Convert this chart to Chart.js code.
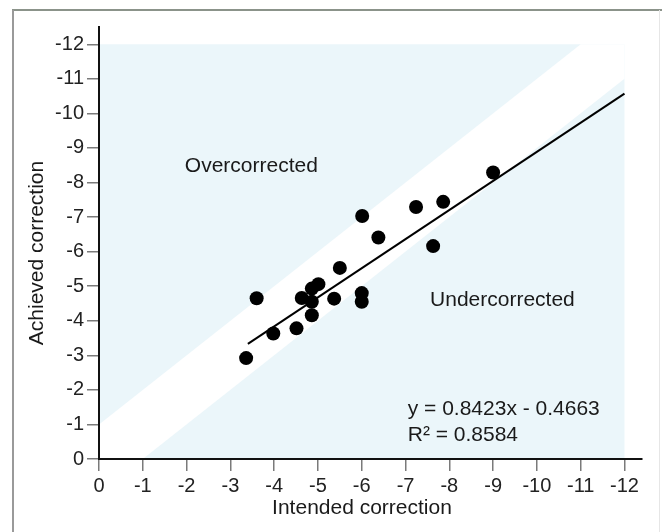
<!DOCTYPE html>
<html>
<head>
<meta charset="utf-8">
<script src="https://cdn.jsdelivr.net/npm/chart.js@4/dist/chart.umd.min.js"></script>
<style>
  html, body { margin: 0; padding: 0; background: #fff; }
  canvas { display: block; }
</style>
</head>
<body>
<canvas id="correction" width="662" height="532"></canvas>
<script>
// intended vs achieved correction (dioptres)
const intended = [-3.36, -3.60, -3.98, -4.51, -4.63, -4.86, -4.86, -4.86, -5.01, -5.37,
  -5.50, -6.00, -6.00, -6.01, -6.38, -7.24, -7.63, -7.86, -9.00]
const achieved = [-2.92, -4.65, -3.63, -3.78, -4.66, -4.55, -4.16, -4.93, -5.06, -4.64,
  -5.53, -4.80, -4.55, -7.03, -6.41, -7.29, -6.16, -7.44, -8.29]

const xTicks = [0, -1, -2, -3, -4, -5, -6, -7, -8, -9, -10, -11, -12]
const yTicks = [0, -1, -2, -3, -4, -5, -6, -7, -8, -9, -10, -11, -12]

// trend line from the fitted equation
const slope = 0.8423
const intercept = -0.4663
const trendX = [-3.4, -12]
const bandHalfWidth = 1

const FONT = "'Liberation Sans', Arial, Helvetica, sans-serif"
const SHADE = "#ebf6fa"

/**
 * Light blue field with a white band of +/- 1 around the line of perfect correction
 */
const shadingPlugin = {
  id: "shading",
  beforeDraw(chart) {
    const { ctx, scales: { x, y } } = chart
    const px = v => x.getPixelForValue(v)
    const py = v => y.getPixelForValue(v)
    ctx.save()
    ctx.fillStyle = SHADE
    ctx.fillRect(px(0), py(-12), px(-12) - px(0), py(0) - py(-12))
    const band = [
      [0, 0], [-bandHalfWidth, 0], [-12, -12 + bandHalfWidth],
      [-12, -12], [-12 + bandHalfWidth, -12], [0, -bandHalfWidth]
    ]
    ctx.fillStyle = "#ffffff"
    ctx.beginPath()
    band.forEach(([bx, by], i) => {
      if (i === 0) ctx.moveTo(px(bx), py(by))
      else ctx.lineTo(px(bx), py(by))
    })
    ctx.closePath()
    ctx.fill()
    ctx.restore()
  },
  afterDraw(chart) {
    const { ctx, scales: { x, y } } = chart
    const px = v => x.getPixelForValue(v)
    const py = v => y.getPixelForValue(v)
    ctx.save()

    // frame round the figure
    ctx.strokeStyle = "#8b938a"
    ctx.lineWidth = 2
    ctx.beginPath()
    ctx.moveTo(12, 10)
    ctx.lineTo(662, 10)
    ctx.stroke()
    ctx.strokeStyle = "#9a9a9a"
    ctx.beginPath()
    ctx.moveTo(13, 10)
    ctx.lineTo(13, 532)
    ctx.stroke()
    ctx.strokeStyle = "#e6e6e6"
    ctx.lineWidth = 1
    ctx.beginPath()
    ctx.moveTo(659.5, 10)
    ctx.lineTo(659.5, 532)
    ctx.stroke()

    ctx.fillStyle = "#1a1a1a"
    ctx.textBaseline = "alphabetic"
    ctx.textAlign = "left"
    ctx.font = "21px " + FONT
    ctx.fillText("Overcorrected", px(-1.96), py(-8.30))
    ctx.fillText("Undercorrected", px(-7.56), py(-4.42))
    ctx.fillText("y = 0.8423x - 0.4663", px(-7.05), py(-1.27))
    ctx.fillText("R\u00b2 = 0.8584", px(-7.05), py(-0.52))

    // axis titles
    ctx.textAlign = "center"
    ctx.textBaseline = "middle"
    ctx.fillText("Intended correction", 362, 508)
    ctx.translate(37, 253)
    ctx.rotate(-Math.PI / 2)
    ctx.fillText("Achieved correction", 0, 0)
    ctx.restore()
  }
}

const axisCommon = {
  type: "linear",
  reverse: true,
  grid: {
    drawOnChartArea: false,
    drawTicks: true,
    tickLength: 12,
    color: "#7a7a7a",
    lineWidth: 1.5
  },
  border: { display: true, color: "#111", width: 2 },
  ticks: {
    font: { family: FONT, size: 20 },
    color: "#222",
    padding: 3,
    autoSkip: false,
    maxRotation: 0
  }
}

const createScatter = (canvas) => {
  const ctx = canvas.getContext("2d")
  const points = intended.map((v, i) => ({ x: v, y: achieved[i] }))
  const trend = trendX.map(v => ({ x: v, y: slope * v + intercept }))

  return new Chart(ctx, {
    type: "scatter",
    data: {
      datasets: [
        {
          type: "line",
          data: trend,
          borderColor: "#000",
          borderWidth: 2,
          pointRadius: 0,
          fill: false,
          order: 2
        },
        {
          data: points,
          backgroundColor: "#000",
          borderColor: "#000",
          borderWidth: 0,
          pointRadius: 7,
          order: 1
        }
      ]
    },
    options: {
      responsive: false,
      devicePixelRatio: 1,
      animation: false,
      layout: { padding: { top: 27, right: 20, left: 0, bottom: 0 } },
      scales: {
        x: {
          ...axisCommon,
          min: -12.4,
          max: 0,
          afterBuildTicks: s => { s.ticks = xTicks.map(v => ({ value: v })) },
          afterFit: s => { s.height = 73 }
        },
        y: {
          ...axisCommon,
          min: -12.5,
          max: 0,
          afterBuildTicks: s => { s.ticks = yTicks.map(v => ({ value: v })) },
          afterFit: s => { s.width = 99 }
        }
      },
      plugins: {
        legend: { display: false },
        tooltip: { enabled: false }
      }
    },
    plugins: [shadingPlugin]
  })
}

createScatter(document.getElementById("correction"))
</script>
</body>
</html>
